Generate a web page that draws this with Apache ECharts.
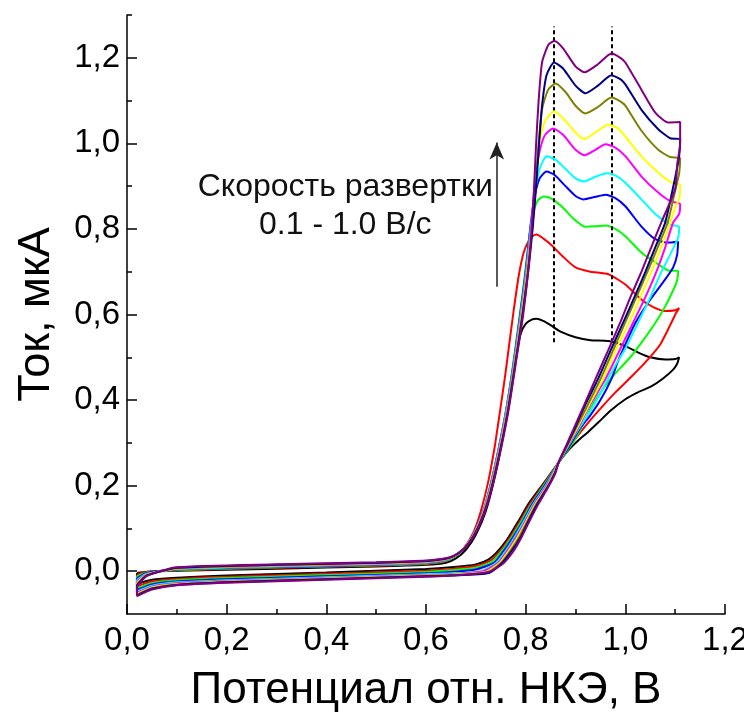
<!DOCTYPE html>
<html>
<head>
<meta charset="utf-8">
<script src="https://cdn.jsdelivr.net/npm/echarts@6/dist/echarts.min.js"></script>
<style>
  html, body { margin: 0; padding: 0; background: #fff; }
  #main { width: 744px; height: 719px; }
</style>
</head>
<body>
<div id="main"></div>
<script>
// scan rates, V/s (one loop each)
const scanRates = ['0.1', '0.2', '0.3', '0.4', '0.5', '0.6', '0.7', '0.8', '0.9', '1.0'];
const loopColors = ['#000000', '#ff0000', '#00ff00', '#0000ff', '#00ffff', '#ff00ff', '#ffff00', '#808000', '#000080', '#800080'];

// [potential V, current uA]
const cv01 = [[0.02,-0.004],[0.04,-0.001],[0.1,0.001],[0.3,0.006],[0.5,0.011],[0.6,0.015],[0.64,0.02],[0.66,0.03],[0.68,0.05],[0.7,0.085],[0.72,0.14],[0.74,0.23],[0.755,0.32],[0.77,0.43],[0.78,0.5],[0.79,0.555],[0.8,0.578],[0.812,0.588],[0.822,0.59],[0.835,0.585],[0.85,0.575],[0.87,0.56],[0.9,0.547],[0.93,0.54],[0.966,0.538],[1.0,0.526],[1.026,0.511],[1.05,0.5],[1.08,0.495],[1.1,0.496],[1.108,0.5],[1.104,0.485],[1.095,0.47],[1.075,0.45],[1.052,0.432],[1.025,0.418],[1.0,0.402],[0.97,0.375],[0.946,0.348],[0.925,0.325],[0.906,0.306],[0.886,0.283],[0.866,0.254],[0.85,0.228],[0.83,0.196],[0.806,0.158],[0.786,0.118],[0.766,0.08],[0.745,0.048],[0.725,0.027],[0.7,0.016],[0.65,0.009],[0.6,0.005],[0.4,-0.003],[0.2,-0.01],[0.1,-0.015],[0.05,-0.02],[0.02,-0.03],[0.02,-0.004]];
const cv02 = [[0.02,-0.008],[0.04,-0.002],[0.1,0.002],[0.3,0.008],[0.5,0.013],[0.6,0.017],[0.635,0.022],[0.655,0.032],[0.675,0.052],[0.695,0.09],[0.71,0.14],[0.725,0.21],[0.737,0.285],[0.748,0.37],[0.758,0.45],[0.767,0.53],[0.776,0.61],[0.786,0.69],[0.796,0.745],[0.806,0.772],[0.815,0.784],[0.822,0.787],[0.835,0.778],[0.852,0.762],[0.875,0.735],[0.9,0.71],[0.93,0.7],[0.966,0.694],[1.0,0.67],[1.032,0.635],[1.055,0.618],[1.08,0.608],[1.1,0.61],[1.108,0.615],[1.102,0.604],[1.092,0.58],[1.07,0.53],[1.04,0.488],[1.01,0.452],[0.98,0.418],[0.95,0.38],[0.926,0.348],[0.9,0.31],[0.88,0.278],[0.866,0.254],[0.852,0.23],[0.832,0.196],[0.809,0.158],[0.789,0.118],[0.769,0.08],[0.748,0.046],[0.728,0.024],[0.7,0.012],[0.65,0.005],[0.6,0.001],[0.4,-0.006],[0.2,-0.013],[0.1,-0.018],[0.05,-0.024],[0.02,-0.035],[0.02,-0.008]];
const cv03 = [[0.02,-0.012],[0.04,-0.003],[0.1,0.003],[0.3,0.009],[0.5,0.014],[0.6,0.018],[0.638,0.024],[0.658,0.034],[0.678,0.055],[0.698,0.092],[0.718,0.152],[0.738,0.245],[0.757,0.35],[0.772,0.46],[0.786,0.58],[0.797,0.68],[0.806,0.77],[0.814,0.835],[0.824,0.866],[0.836,0.876],[0.85,0.872],[0.872,0.853],[0.895,0.825],[0.92,0.805],[0.94,0.806],[0.96,0.808],[0.98,0.8],[1.0,0.783],[1.032,0.745],[1.06,0.722],[1.086,0.703],[1.106,0.702],[1.104,0.68],[1.098,0.662],[1.08,0.619],[1.06,0.58],[1.036,0.54],[1.012,0.503],[0.99,0.475],[0.97,0.449],[0.948,0.414],[0.93,0.38],[0.912,0.335],[0.89,0.292],[0.866,0.254],[0.853,0.23],[0.834,0.196],[0.812,0.158],[0.792,0.118],[0.772,0.08],[0.751,0.046],[0.732,0.022],[0.7,0.008],[0.65,0.002],[0.6,-0.002],[0.4,-0.009],[0.2,-0.016],[0.1,-0.021],[0.05,-0.028],[0.02,-0.04],[0.02,-0.012]];
const cv04 = [[0.02,-0.016],[0.04,-0.004],[0.1,0.004],[0.3,0.01],[0.5,0.015],[0.6,0.019],[0.64,0.026],[0.66,0.037],[0.68,0.058],[0.7,0.097],[0.72,0.16],[0.74,0.255],[0.759,0.365],[0.775,0.48],[0.789,0.6],[0.8,0.7],[0.809,0.8],[0.817,0.87],[0.828,0.918],[0.842,0.934],[0.858,0.926],[0.88,0.9],[0.9,0.877],[0.916,0.869],[0.94,0.875],[0.96,0.88],[0.98,0.872],[1.0,0.853],[1.032,0.806],[1.06,0.776],[1.086,0.768],[1.106,0.77],[1.104,0.74],[1.096,0.71],[1.08,0.682],[1.046,0.628],[1.02,0.58],[1.0,0.53],[0.985,0.49],[0.972,0.449],[0.95,0.4],[0.93,0.365],[0.908,0.332],[0.888,0.293],[0.866,0.254],[0.854,0.23],[0.836,0.196],[0.814,0.158],[0.795,0.118],[0.775,0.08],[0.755,0.046],[0.737,0.02],[0.7,0.004],[0.65,-0.002],[0.6,-0.005],[0.4,-0.012],[0.2,-0.019],[0.1,-0.024],[0.05,-0.031],[0.02,-0.044],[0.02,-0.016]];
const cv05 = [[0.02,-0.02],[0.04,-0.006],[0.1,0.005],[0.3,0.011],[0.5,0.016],[0.6,0.02],[0.641,0.027],[0.661,0.038],[0.681,0.06],[0.701,0.099],[0.721,0.162],[0.741,0.257],[0.76,0.367],[0.776,0.482],[0.79,0.6],[0.801,0.7],[0.81,0.8],[0.818,0.88],[0.828,0.94],[0.842,0.97],[0.86,0.962],[0.88,0.94],[0.9,0.918],[0.916,0.911],[0.94,0.922],[0.962,0.93],[0.98,0.925],[1.0,0.908],[1.03,0.872],[1.06,0.835],[1.09,0.81],[1.108,0.805],[1.106,0.78],[1.09,0.74],[1.072,0.699],[1.05,0.64],[1.026,0.582],[1.0,0.52],[0.982,0.485],[0.965,0.449],[0.945,0.405],[0.925,0.365],[0.906,0.332],[0.886,0.294],[0.866,0.254],[0.855,0.23],[0.838,0.196],[0.816,0.158],[0.797,0.118],[0.778,0.08],[0.759,0.046],[0.741,0.02],[0.71,0.0],[0.65,-0.005],[0.6,-0.007],[0.4,-0.014],[0.2,-0.021],[0.1,-0.026],[0.05,-0.034],[0.02,-0.047],[0.02,-0.02]];
const cv06 = [[0.02,-0.024],[0.04,-0.007],[0.1,0.006],[0.3,0.012],[0.5,0.017],[0.6,0.021],[0.642,0.028],[0.662,0.039],[0.682,0.061],[0.702,0.1],[0.722,0.163],[0.742,0.258],[0.761,0.368],[0.777,0.484],[0.791,0.6],[0.802,0.7],[0.811,0.8],[0.818,0.9],[0.826,0.97],[0.838,1.018],[0.855,1.035],[0.875,1.02],[0.9,0.985],[0.918,0.972],[0.94,0.985],[0.96,0.998],[0.98,0.99],[1.0,0.97],[1.032,0.923],[1.066,0.885],[1.09,0.865],[1.11,0.858],[1.108,0.835],[1.096,0.815],[1.08,0.757],[1.062,0.699],[1.04,0.64],[1.016,0.582],[0.99,0.52],[0.96,0.449],[0.93,0.39],[0.904,0.332],[0.885,0.293],[0.866,0.254],[0.856,0.23],[0.84,0.196],[0.818,0.158],[0.8,0.118],[0.781,0.08],[0.762,0.046],[0.745,0.02],[0.715,0.0],[0.65,-0.007],[0.6,-0.009],[0.4,-0.016],[0.2,-0.023],[0.1,-0.028],[0.05,-0.036],[0.02,-0.05],[0.02,-0.024]];
const cv07 = [[0.02,-0.027],[0.04,-0.008],[0.1,0.006],[0.3,0.013],[0.5,0.018],[0.6,0.022],[0.643,0.029],[0.663,0.04],[0.683,0.062],[0.703,0.101],[0.723,0.164],[0.743,0.259],[0.762,0.369],[0.778,0.486],[0.792,0.6],[0.803,0.7],[0.812,0.8],[0.819,0.9],[0.826,0.99],[0.838,1.05],[0.857,1.075],[0.878,1.055],[0.9,1.025],[0.918,1.01],[0.94,1.025],[0.966,1.044],[0.985,1.035],[1.0,1.016],[1.032,0.97],[1.066,0.932],[1.09,0.91],[1.11,0.902],[1.108,0.87],[1.1,0.85],[1.09,0.815],[1.072,0.757],[1.052,0.699],[1.03,0.64],[1.008,0.582],[0.98,0.515],[0.955,0.449],[0.928,0.39],[0.902,0.332],[0.884,0.293],[0.866,0.254],[0.857,0.23],[0.842,0.196],[0.82,0.158],[0.802,0.118],[0.784,0.08],[0.765,0.046],[0.748,0.02],[0.72,-0.002],[0.65,-0.008],[0.6,-0.01],[0.4,-0.017],[0.2,-0.024],[0.1,-0.03],[0.05,-0.038],[0.02,-0.053],[0.02,-0.027]];
const cv08 = [[0.02,-0.03],[0.04,-0.009],[0.1,0.007],[0.3,0.014],[0.5,0.019],[0.6,0.023],[0.644,0.03],[0.664,0.041],[0.684,0.063],[0.704,0.102],[0.724,0.165],[0.744,0.26],[0.763,0.37],[0.779,0.488],[0.793,0.6],[0.804,0.7],[0.813,0.8],[0.82,0.9],[0.826,1.0],[0.833,1.08],[0.845,1.125],[0.86,1.14],[0.88,1.12],[0.9,1.088],[0.92,1.07],[0.945,1.085],[0.972,1.107],[0.99,1.098],[1.0,1.088],[1.032,1.03],[1.066,0.985],[1.09,0.968],[1.11,0.965],[1.108,0.93],[1.1,0.89],[1.085,0.815],[1.065,0.757],[1.044,0.699],[1.022,0.64],[1.0,0.582],[0.975,0.515],[0.95,0.449],[0.925,0.39],[0.9,0.332],[0.883,0.293],[0.866,0.254],[0.858,0.23],[0.843,0.196],[0.822,0.158],[0.804,0.118],[0.787,0.08],[0.768,0.046],[0.751,0.02],[0.723,-0.003],[0.65,-0.009],[0.6,-0.011],[0.4,-0.018],[0.2,-0.025],[0.1,-0.031],[0.05,-0.04],[0.02,-0.055],[0.02,-0.03]];
const cv09 = [[0.02,-0.033],[0.04,-0.01],[0.1,0.008],[0.3,0.015],[0.5,0.02],[0.6,0.024],[0.645,0.031],[0.665,0.042],[0.685,0.064],[0.705,0.103],[0.725,0.166],[0.745,0.261],[0.764,0.371],[0.78,0.49],[0.794,0.6],[0.805,0.7],[0.814,0.8],[0.821,0.9],[0.827,1.0],[0.833,1.09],[0.842,1.16],[0.857,1.189],[0.875,1.175],[0.9,1.135],[0.92,1.117],[0.945,1.135],[0.972,1.159],[0.99,1.15],[1.0,1.138],[1.032,1.079],[1.066,1.033],[1.09,1.012],[1.11,1.01],[1.108,0.97],[1.1,0.92],[1.08,0.815],[1.06,0.757],[1.04,0.699],[1.018,0.64],[0.996,0.582],[0.97,0.515],[0.945,0.449],[0.92,0.39],[0.898,0.332],[0.882,0.293],[0.866,0.254],[0.859,0.23],[0.844,0.196],[0.824,0.158],[0.806,0.118],[0.79,0.08],[0.771,0.046],[0.753,0.02],[0.726,-0.004],[0.65,-0.01],[0.6,-0.012],[0.4,-0.019],[0.2,-0.026],[0.1,-0.032],[0.05,-0.041],[0.02,-0.057],[0.02,-0.033]];
const cv10 = [[0.02,-0.036],[0.04,-0.011],[0.1,0.009],[0.3,0.016],[0.5,0.021],[0.6,0.025],[0.646,0.032],[0.666,0.043],[0.686,0.065],[0.706,0.104],[0.726,0.167],[0.746,0.262],[0.765,0.372],[0.781,0.492],[0.795,0.6],[0.805,0.7],[0.812,0.8],[0.817,0.9],[0.821,1.0],[0.826,1.1],[0.833,1.19],[0.846,1.231],[0.858,1.239],[0.875,1.222],[0.9,1.18],[0.918,1.166],[0.945,1.185],[0.972,1.21],[0.99,1.2],[1.0,1.189],[1.032,1.126],[1.06,1.072],[1.086,1.049],[1.11,1.05],[1.11,1.0],[1.104,0.95],[1.1,0.893],[1.072,0.815],[1.052,0.757],[1.032,0.699],[1.01,0.64],[0.99,0.582],[0.965,0.515],[0.94,0.449],[0.918,0.39],[0.896,0.332],[0.881,0.293],[0.866,0.254],[0.86,0.23],[0.845,0.196],[0.826,0.158],[0.808,0.118],[0.792,0.08],[0.775,0.046],[0.755,0.018],[0.73,0.0],[0.7,-0.006],[0.6,-0.013],[0.4,-0.02],[0.2,-0.027],[0.1,-0.033],[0.05,-0.043],[0.02,-0.058],[0.02,-0.036]];
const loops = [cv01, cv02, cv03, cv04, cv05, cv06, cv07, cv08, cv09, cv10];

// peak potentials (dashed guides) and the scan-rate arrow
const peakPotentials = [0.856, 0.972];
const peakGuideRange = [0.535, 1.273];
const arrowPotential = 0.742;
const arrowRange = [0.665, 1.002];

// axis ticks
const yMajorTicks = [0, 0.2, 0.4, 0.6, 0.8, 1.0, 1.2];
const yMinorTicks = [0.1, 0.3, 0.5, 0.7, 0.9, 1.1, 1.3];

// annotation text, anchored in data coordinates
const noteLines = ['Скорость развертки', '0.1 - 1.0 В/с'];
const noteAnchors = [[0.438, 0.897], [0.438, 0.808]];

const FONT = 'Liberation Sans, Arial, sans-serif';
const comma = v => v.toFixed(1).replace('.', ',');

let chart = echarts.init(document.getElementById('main'));

let series = loops.map((d, i) => ({
  name: scanRates[i] + ' В/с',
  type: 'line',
  data: d,
  showSymbol: false,
  smooth: 0.2,
  lineStyle: { color: loopColors[i], width: 2 },
  itemStyle: { color: loopColors[i] },
  z: 2 + i
}));

// guides: dashed peak lines + arrow
series.push({
  type: 'line',
  data: [],
  silent: true,
  z: 20,
  markLine: {
    silent: true,
    animation: false,
    label: { show: false },
    data: peakPotentials.map(x => [
      { coord: [x, peakGuideRange[0]], symbol: 'none' },
      { coord: [x, peakGuideRange[1]], symbol: 'none' }
    ]).concat([[
      { coord: [arrowPotential, arrowRange[0]], symbol: 'none', lineStyle: { type: 'solid', width: 1.5, color: '#222' } },
      { coord: [arrowPotential, arrowRange[1]], symbol: 'arrow', symbolSize: [11, 17] }
    ]]),
    lineStyle: { type: [4, 3], color: '#000', width: 2 }
  }
});

let option = {
  animation: false,
  backgroundColor: '#fff',
  grid: { left: 127, right: 19, top: 15, bottom: 105, outerBoundsMode: 'none', containLabel: false },
  xAxis: {
    type: 'value',
    min: 0,
    max: 1.2,
    interval: 0.2,
    name: 'Потенциал отн. НКЭ, В',
    nameLocation: 'middle',
    nameGap: 55,
    nameTextStyle: { fontFamily: FONT, fontSize: 44, color: '#000' },
    axisLine: { onZero: false, lineStyle: { color: '#000', width: 1.5 } },
    axisTick: { inside: true, length: 10, lineStyle: { color: '#000', width: 1.5 } },
    minorTick: { show: true, splitNumber: 2, length: 5, lineStyle: { color: '#000', width: 1.5 } },
    splitLine: { show: false },
    axisLabel: { margin: 10, fontFamily: FONT, fontSize: 33, color: '#000', formatter: comma }
  },
  yAxis: [{
    type: 'value',
    min: -0.1,
    max: 1.3,
    name: 'Ток, мкА',
    nameLocation: 'middle',
    nameGap: 68,
    nameTextStyle: { fontFamily: FONT, fontSize: 45, color: '#000' },
    axisLine: { onZero: false, lineStyle: { color: '#000', width: 1.5 } },
    axisTick: { inside: true, length: 10, customValues: yMajorTicks, lineStyle: { color: '#000', width: 1.5 } },
    splitLine: { show: false },
    axisLabel: { margin: 7, fontFamily: FONT, fontSize: 33, color: '#000', customValues: yMajorTicks, formatter: comma }
  }, {
    // minor ticks only
    type: 'value',
    position: 'left',
    min: -0.1,
    max: 1.3,
    axisLine: { show: false },
    axisTick: { inside: true, length: 5, customValues: yMinorTicks, lineStyle: { color: '#000', width: 1.5 } },
    axisLabel: { show: false },
    splitLine: { show: false }
  }],
  series: series
};

chart.setOption(option);

// place the note text through the chart's own scales
chart.setOption({
  graphic: noteLines.map((t, i) => {
    let p = chart.convertToPixel({ gridIndex: 0 }, noteAnchors[i]);
    return {
      type: 'text',
      x: p[0],
      y: p[1],
      style: { text: t, align: 'center', verticalAlign: 'middle', fontFamily: FONT, fontSize: 32, fill: '#111' }
    };
  })
});
</script>
</body>
</html>
